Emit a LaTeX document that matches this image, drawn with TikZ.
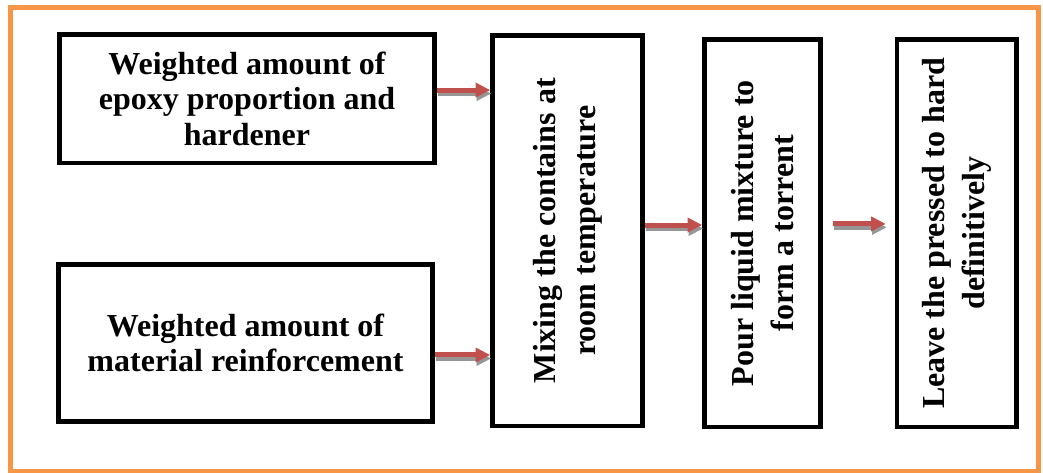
\documentclass[tikz,border=0pt]{standalone}
\usepackage{fontspec}
\setmainfont{Liberation Serif}
\usepackage{xcolor}
\usepackage{tikz}
\usetikzlibrary{arrows.meta}

\definecolor{frameorange}{RGB}{247,150,70}
\definecolor{arrowred}{RGB}{192,80,77}
\definecolor{shadowgray}{RGB}{150,150,150}

\tikzset{
  stepbox/.style={draw,line width=3.4pt,inner sep=0pt,align=center,font=\bfseries\fontsize{24}{26.5}\selectfont},
  upbox/.style={stepbox,rotate=90,font=\bfseries\fontsize{24}{30}\selectfont},
  flowarrow/.style={draw=arrowred,line width=3.75pt,-{Triangle[length=11pt,width=10.5pt]}},
  flowshadow/.style={draw=shadowgray,line width=3.75pt,-{Triangle[length=11pt,width=10.5pt]},transform canvas={xshift=0.75pt,yshift=-2.6pt}}
}

\begin{document}
\begin{tikzpicture}[x=0.75pt,y=0.75pt,yscale=-1,xscale=1]
\useasboundingbox (0,0) rectangle (1043,473);

%Shape: Frame
\draw[frameorange,line width=3.75pt] (10.5,7.5) rectangle (1038,471.5);

% Text Node
\node[stepbox,minimum width=281.25pt,minimum height=96.4pt] (wepoxy) at (247,98.75) {Weighted amount of\\epoxy proportion and\\hardener};
% Text Node
\node[stepbox,minimum width=280.5pt,minimum height=117.75pt] (wmat) at (245.5,343) {Weighted amount of\\material reinforcement};
% Text Node
\node[upbox,minimum width=292.9pt,minimum height=112.5pt] (mixing) at (567.5,230.75) {Mixing the contains at\\room temperature};
% Text Node
\node[upbox,minimum width=290.6pt,minimum height=87pt] (pour) at (762.5,233.25) {Pour liquid mixture to\\form a torrent};
% Text Node
\node[upbox,minimum width=290.6pt,minimum height=89.6pt] (leave) at (956.75,233.25) {Leave the pressed to hard\\definitively};

%Arrows: shadow first
\draw[flowshadow] ([yshift=-6.5pt]wepoxy.east) -- ([yshift=-6.5pt]wepoxy.east -| mixing.north);
\draw[flowshadow] ([yshift=9pt]wmat.east) -- ([yshift=9pt]wmat.east -| mixing.north);
\draw[flowshadow] ([yshift=-4.3pt]mixing.south) -- ([yshift=-4.3pt]mixing.south -| pour.north);
\draw[flowshadow,shorten <=7.5pt,shorten >=6.75pt] ([yshift=-7pt]pour.south) -- ([yshift=-7pt]pour.south -| leave.north);

%Arrows
\draw[flowarrow] ([yshift=-6.5pt]wepoxy.east) -- ([yshift=-6.5pt]wepoxy.east -| mixing.north);
\draw[flowarrow] ([yshift=9pt]wmat.east) -- ([yshift=9pt]wmat.east -| mixing.north);
\draw[flowarrow] ([yshift=-4.3pt]mixing.south) -- ([yshift=-4.3pt]mixing.south -| pour.north);
\draw[flowarrow,shorten <=7.5pt,shorten >=6.75pt] ([yshift=-7pt]pour.south) -- ([yshift=-7pt]pour.south -| leave.north);

\end{tikzpicture}
\end{document}
